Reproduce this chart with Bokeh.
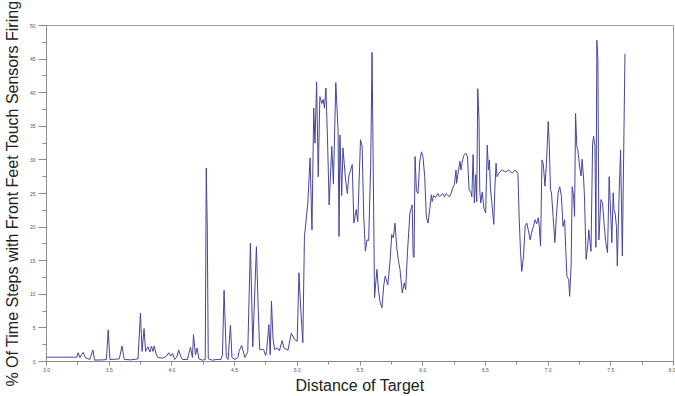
from bokeh.plotting import figure
from bokeh.models import SingleIntervalTicker, NumeralTickFormatter, Range1d
from bokeh.embed import file_html
from bokeh.resources import INLINE

distance = [
    3.000, 3.242, 3.252, 3.266, 3.292, 3.309, 3.344, 3.370, 3.384, 3.455,
    3.478, 3.492, 3.506, 3.557, 3.581, 3.602, 3.620, 3.675, 3.730, 3.749,
    3.762, 3.778, 3.790, 3.809, 3.825, 3.837, 3.849, 3.859, 3.876, 3.888,
    3.927, 3.951, 3.975, 3.991, 4.006, 4.022, 4.038, 4.054, 4.069, 4.085,
    4.124, 4.148, 4.164, 4.172, 4.188, 4.201, 4.215, 4.243, 4.266, 4.274,
    4.282, 4.290, 4.321, 4.361, 4.392, 4.403, 4.416, 4.434, 4.448, 4.467,
    4.479, 4.503, 4.526, 4.537, 4.556, 4.582, 4.605, 4.626, 4.645, 4.674,
    4.688, 4.700, 4.731, 4.747, 4.755, 4.773, 4.784, 4.794, 4.806, 4.818,
    4.842, 4.857, 4.879, 4.894, 4.926, 4.952, 4.978, 4.999, 5.013, 5.027,
    5.044, 5.057, 5.084, 5.102, 5.117, 5.131, 5.141, 5.154, 5.167, 5.180,
    5.196, 5.206, 5.217, 5.228, 5.241, 5.254, 5.275, 5.288, 5.307, 5.325,
    5.333, 5.340, 5.354, 5.364, 5.385, 5.399, 5.411, 5.438, 5.451, 5.470,
    5.482, 5.504, 5.517, 5.530, 5.543, 5.556, 5.569, 5.585, 5.596, 5.616,
    5.635, 5.648, 5.661, 5.675, 5.690, 5.701, 5.722, 5.740, 5.753, 5.766,
    5.779, 5.793, 5.805, 5.819, 5.837, 5.853, 5.864, 5.879, 5.898, 5.916,
    5.924, 5.931, 5.939, 5.950, 5.963, 5.976, 5.990, 6.002, 6.016, 6.029,
    6.042, 6.055, 6.069, 6.076, 6.087, 6.102, 6.121, 6.134, 6.147, 6.160,
    6.173, 6.187, 6.199, 6.213, 6.226, 6.239, 6.252, 6.266, 6.270, 6.286,
    6.297, 6.305, 6.318, 6.331, 6.344, 6.357, 6.370, 6.384, 6.392, 6.402,
    6.412, 6.423, 6.431, 6.439, 6.449, 6.455, 6.463, 6.475, 6.488, 6.502,
    6.515, 6.524, 6.532, 6.541, 6.554, 6.567, 6.575, 6.585, 6.593, 6.607,
    6.633, 6.660, 6.686, 6.712, 6.738, 6.759, 6.770, 6.780, 6.790, 6.804,
    6.817, 6.830, 6.843, 6.857, 6.869, 6.883, 6.896, 6.909, 6.922, 6.930,
    6.940, 6.951, 6.961, 6.975, 6.987, 7.001, 7.009, 7.019, 7.027, 7.040,
    7.054, 7.066, 7.080, 7.093, 7.106, 7.119, 7.132, 7.140, 7.150, 7.164,
    7.172, 7.184, 7.192, 7.203, 7.211, 7.219, 7.229, 7.237, 7.251, 7.263,
    7.271, 7.282, 7.290, 7.303, 7.316, 7.324, 7.342, 7.355, 7.363, 7.374,
    7.381, 7.389, 7.397, 7.405, 7.421, 7.434, 7.448, 7.460, 7.474, 7.487,
    7.500, 7.508, 7.519, 7.526, 7.534, 7.545, 7.552, 7.566, 7.578, 7.592,
    7.613,
]

pct_front_touch = [
    0.64, 0.64, 1.3, 0.6, 1.35, 0.6, 0.3, 1.7, 0.2, 0.25,
    0.3, 4.7, 0.3, 0.35, 0.4, 2.3, 0.3, 0.25, 0.4, 7.2,
    1.5, 4.9, 1.5, 2.2, 1.4, 2.3, 1.5, 2.3, 1.0, 0.6,
    0.5, 0.7, 1.3, 0.8, 1.2, 0.3, 0.6, 1.7, 0.8, 0.3,
    0.3, 2.1, 0.6, 4.0, 1.0, 2.0, 0.4, 0.2, 0.3, 28.8,
    20.0, 0.4, 0.2, 0.3, 0.3, 1.0, 10.6, 0.6, 0.3, 5.4,
    0.6, 0.3, 0.6, 1.6, 2.4, 0.6, 1.5, 17.6, 2.2, 17.1,
    8.0, 1.8, 1.8, 0.9, 1.5, 5.5, 1.0, 9.0, 3.5, 1.8,
    2.0, 1.6, 3.1, 2.0, 1.7, 4.2, 3.3, 3.0, 13.2, 8.0,
    2.8, 18.6, 23.6, 30.3, 19.6, 37.7, 32.5, 41.6, 27.5, 39.4,
    38.4, 39.0, 37.7, 40.7, 33.0, 23.3, 32.0, 26.4, 41.5, 34.4,
    18.6, 33.7, 24.7, 31.8, 27.0, 25.0, 27.6, 29.3, 20.6, 22.6,
    20.8, 33.0, 32.0, 21.5, 16.4, 18.1, 18.0, 29.0, 46.0, 9.5,
    13.7, 10.5, 8.75, 8.0, 11.4, 12.7, 11.4, 15.0, 18.9, 18.4,
    20.6, 17.0, 15.2, 13.7, 10.2, 11.7, 10.7, 16.4, 22.1, 23.3,
    15.7, 15.5, 30.5, 25.4, 25.0, 29.7, 31.2, 30.5, 27.5, 21.5,
    20.6, 22.5, 24.8, 23.8, 24.7, 24.4, 25.0, 24.5, 24.8, 25.0,
    24.5, 25.0, 24.8, 24.5, 25.0, 25.8, 26.3, 28.5, 26.5, 28.5,
    29.8, 28.5, 30.0, 30.8, 31.0, 30.5, 25.5, 25.2, 24.5, 30.8,
    23.6, 27.8, 23.8, 40.6, 35.9, 25.5, 23.6, 25.2, 22.8, 22.1,
    32.2, 28.5, 30.0, 25.6, 23.1, 20.4, 25.6, 29.5, 27.5, 28.0,
    28.5, 28.2, 28.5, 28.0, 28.5, 28.0, 21.1, 16.4, 13.4, 15.7,
    20.1, 20.6, 19.5, 18.1, 19.2, 20.1, 21.1, 20.5, 21.4, 20.1,
    17.2, 30.0, 29.5, 26.1, 29.5, 35.7, 32.5, 25.6, 25.1, 21.6,
    17.7, 21.6, 25.1, 26.0, 24.6, 20.1, 21.1, 17.0, 12.7, 12.2,
    9.7, 14.6, 26.0, 24.6, 21.6, 36.9, 32.0, 31.5, 29.1, 27.6,
    30.1, 27.6, 24.6, 15.2, 17.2, 19.6, 16.4, 32.5, 33.5, 32.0,
    17.0, 47.8, 44.9, 18.1, 24.1, 23.6, 20.1, 17.7, 16.2, 27.5,
    21.6, 17.7, 25.1, 22.6, 22.1, 20.1, 14.2, 24.7, 31.5, 15.7,
    45.8,
]

x_range = (3.0, 8.0)
y_range = (0, 50)

p = figure(width=675, height=396, output_backend="svg", toolbar_location=None,
           x_range=Range1d(*x_range), y_range=Range1d(*y_range),
           min_border_top=25, min_border_right=2, min_border_left=0, min_border_bottom=0)

p.line(distance, pct_front_touch, line_color="#45459c", line_width=1)

p.xgrid.visible = False
p.ygrid.visible = False
p.outline_line_color = "#9a9a9a"
p.outline_line_width = 1
p.background_fill_color = "white"
p.border_fill_color = "white"

p.xaxis.ticker = SingleIntervalTicker(interval=0.5, num_minor_ticks=2)
p.yaxis.ticker = SingleIntervalTicker(interval=5, num_minor_ticks=2)
p.xaxis.formatter = NumeralTickFormatter(format="0.0")

for ax in (p.xaxis[0], p.yaxis[0]):
    ax.axis_line_color = "#8a8a8a"
    ax.major_tick_line_color = "#8a8a8a"
    ax.minor_tick_line_color = "#8a8a8a"
    ax.major_tick_in = 0
    ax.minor_tick_in = 0
    ax.major_label_text_font = "Liberation Sans"
    ax.major_label_text_font_size = "5px"
    ax.major_label_text_color = "#555555"
    ax.axis_label_text_font = "Liberation Sans"
    ax.axis_label_text_font_size = "16px"
    ax.axis_label_text_font_style = "normal"
    ax.axis_label_text_color = "#222222"

p.xaxis.major_tick_out = 4
p.xaxis.minor_tick_out = 3
p.xaxis.major_label_standoff = 2
p.xaxis.axis_label_standoff = 2
p.yaxis.major_tick_out = 8
p.yaxis.minor_tick_out = 4
p.yaxis.major_label_standoff = 3
p.yaxis.axis_label_standoff = 6

p.xaxis.axis_label = "Distance of Target"
p.yaxis.axis_label = "% Of Time Steps with Front Feet Touch Sensors Firing"

open("out.html", "w").write(file_html(p, INLINE))
